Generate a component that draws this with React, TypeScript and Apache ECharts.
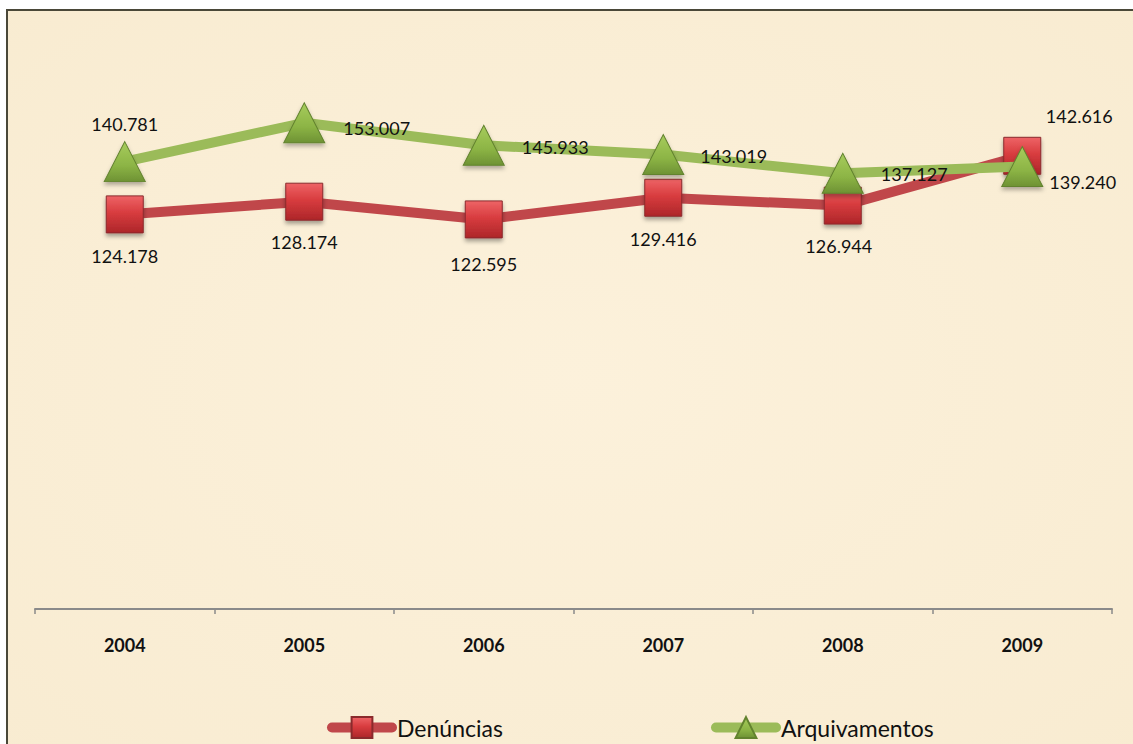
import React, { useEffect, useRef } from "react";
import * as echarts from "echarts";

const years = ["2004", "2005", "2006", "2007", "2008", "2009"];
const denuncias = [124.178, 128.174, 122.595, 129.416, 126.944, 142.616];
const arquivamentos = [140.781, 153.007, 145.933, 143.019, 137.127, 139.24];
const yMin = 0;
const yMax = 180;

// label placement per point (style only)
const denLabelPlace = [
  { position: "bottom", distance: 14, offset: [0, 0] },
  { position: "bottom", distance: 12, offset: [0, 0] },
  { position: "bottom", distance: 17, offset: [0, 0] },
  { position: "bottom", distance: 13, offset: [0, 0] },
  { position: "bottom", distance: 12, offset: [-4, 0] },
  { position: "top", distance: 12, offset: [57, 0] },
];
const arqLabelPlace = [
  { position: "top", distance: 8, offset: [0, 0] },
  { position: "right", distance: 18, offset: [0, 5] },
  { position: "right", distance: 17, offset: [0, 2] },
  { position: "right", distance: 16, offset: [0, 1] },
  { position: "right", distance: 17, offset: [0, 1] },
  { position: "right", distance: 6, offset: [0, 15] },
];

const FONT = "Lato";

export default function App() {
  const ref = useRef<HTMLDivElement>(null);
  useEffect(() => {
    if (!ref.current) return;
    const chart = echarts.init(ref.current, undefined, { renderer: "svg" });
    const labelFmt = (p: any) => Number(p.value).toFixed(3);
    const baseLabel = {
      show: true,
      fontFamily: FONT,
      fontSize: 18,
      color: "#111",
      formatter: labelFmt,
    };
    const redFill = new echarts.graphic.LinearGradient(0, 0, 0, 1, [
      { offset: 0, color: "#ee6466" },
      { offset: 0.45, color: "#d83c3f" },
      { offset: 1, color: "#ad2629" },
    ]);
    const greenFill = new echarts.graphic.LinearGradient(0, 0, 0, 1, [
      { offset: 0, color: "#a7cc5c" },
      { offset: 0.6, color: "#8cb445" },
      { offset: 1, color: "#6e9234" },
    ]);
    const legendCommon = {
      top: 705,
      padding: 0,
      itemWidth: 60,
      itemHeight: 26,
      lineStyle: { width: 10, cap: "round" },
      textStyle: { fontFamily: FONT, fontSize: 23, color: "#111" },
      selectedMode: false,
    };
    chart.setOption({
      animation: false,
      backgroundColor: new echarts.graphic.RadialGradient(0.5, 0.5, 0.8, [
        { offset: 0, color: "#fcf1db" },
        { offset: 1, color: "#f8ebd0" },
      ]),
      grid: { left: 27, right: 21, top: 26, bottom: 135, containLabel: false },
      legend: [
        { ...legendCommon, left: 319, data: ["Denúncias"] },
        { ...legendCommon, left: 703, data: ["Arquivamentos"] },
      ],
      xAxis: {
        type: "category",
        data: years,
        boundaryGap: true,
        axisLine: { show: true, lineStyle: { color: "#8a8a8a", width: 2 } },
        axisTick: { show: true, length: 5, lineStyle: { color: "#8a8a8a", width: 1.5 } },
        axisLabel: {
          margin: 27,
          fontFamily: FONT,
          fontSize: 18,
          fontWeight: "bold",
          color: "#111",
        },
        splitLine: { show: false },
      },
      yAxis: {
        type: "value",
        min: yMin,
        max: yMax,
        show: false,
        splitLine: { show: false },
      },
      series: [
        {
          name: "Denúncias",
          type: "line",
          data: denuncias.map((v, i) => ({
            value: v,
            label: { ...baseLabel, ...denLabelPlace[i] },
          })),
          symbol: "rect",
          symbolSize: 37,
          lineStyle: { color: "#c0474a", width: 10 },
          itemStyle: {
            color: redFill,
            borderColor: "#8a2a2c",
            borderWidth: 1,
            shadowColor: "rgba(0,0,0,0.35)",
            shadowBlur: 4,
            shadowOffsetY: 3,
          },
          label: baseLabel,
          z: 2,
        },
        {
          name: "Arquivamentos",
          type: "line",
          data: arquivamentos.map((v, i) => ({
            value: v,
            label: { ...baseLabel, ...arqLabelPlace[i] },
          })),
          symbol: "triangle",
          symbolSize: [41, 40],
          lineStyle: { color: "#9bbb59", width: 10 },
          itemStyle: {
            color: greenFill,
            borderColor: "#62822e",
            borderWidth: 1,
            shadowColor: "rgba(0,0,0,0.3)",
            shadowBlur: 4,
            shadowOffsetY: 3,
          },
          label: baseLabel,
          z: 3,
        },
      ],
    });
    return () => chart.dispose();
  }, []);
  return (
    <div
      style={{
        position: "fixed",
        left: 6,
        top: 9,
        width: 1127,
        height: 735,
        boxSizing: "border-box",
        borderTop: "2px solid #4a4838",
        borderLeft: "2px solid #4a4838",
        background: "#fbefd6",
        overflow: "hidden",
      }}
    >
      <div ref={ref} style={{ width: 1125, height: 733 }} />
    </div>
  );
}
